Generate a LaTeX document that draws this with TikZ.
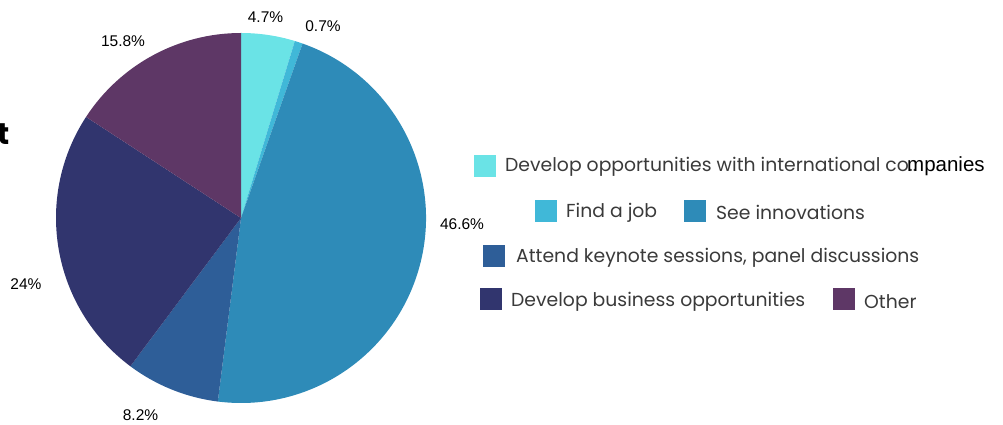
\documentclass[tikz,border=0pt]{standalone}
\usepackage{fontspec}
\setmainfont{Liberation Sans}
\newfontfamily\legendfont{Poppins}
\usetikzlibrary{positioning}

\definecolor{sliceA}{HTML}{6AE3E6}
\definecolor{sliceB}{HTML}{40B8D8}
\definecolor{sliceC}{HTML}{2E8BB8}
\definecolor{sliceD}{HTML}{2E5E98}
\definecolor{sliceE}{HTML}{31356E}
\definecolor{sliceF}{HTML}{5E3766}
\definecolor{legendtext}{HTML}{3A3A3A}

\tikzset{
  pct/.style={font=\fontsize{15.5}{16}\selectfont, text=black, inner sep=0pt},
  swatch/.style={minimum size=22pt, inner sep=0pt, fill=#1},
  legendlabel/.style={font=\legendfont\fontsize{18.8}{20}\selectfont, text=legendtext, inner sep=0pt, anchor=west}
}

\begin{document}
\begin{tikzpicture}[x=1pt,y=1pt]

\useasboundingbox (0,0) rectangle (1003,425);

% pie slices
\begin{scope}[shift={(241,207)}]
\fill[sliceA] (0,0) -- (90:185) arc(90:73.08:185) -- cycle;
\fill[sliceB] (0,0) -- (73.08:185) arc(73.08:70.56:185) -- cycle;
\fill[sliceC] (0,0) -- (70.56:185) arc(70.56:-97.2:185) -- cycle;
\fill[sliceD] (0,0) -- (-97.2:185) arc(-97.2:-126.72:185) -- cycle;
\fill[sliceE] (0,0) -- (-126.72:185) arc(-126.72:-213.12:185) -- cycle;
\fill[sliceF] (0,0) -- (146.88:185) arc(146.88:90:185) -- cycle;
\end{scope}

% percentages
\node[pct] (pA) at (265.5,407.5) {4.7\%};
\node[pct] (pB) at (323,398.5) {0.7\%};
\node[pct] (pC) at (462,201) {46.6\%};
\node[pct] (pD) at (140.5,10) {8.2\%};
\node[pct] (pE) at (26,141) {24\%};
\node[pct] (pF) at (123,384) {15.8\%};

% cut title
\node[font=\legendfont\bfseries\fontsize{30}{32}\selectfont, inner sep=0pt, anchor=west] (title) at (-3,291) {t};

% legend
\node[swatch=sliceA] (sqA) at (485,259) {};
\node[legendlabel] (lbA) at (505,258) {Develop opportunities with international co..};
\node[font=\fontsize{20.5}{22}\selectfont, inner sep=0pt, anchor=west] (lbAend) at (907,259) {mpanies};

\node[swatch=sliceB] (sqB) at (546,214) {};
\node[legendlabel] (lbB) at (566,212.5) {Find a job};
\node[swatch=sliceC] (sqC) at (694.5,214) {};
\node[legendlabel] (lbC) at (716,212.5) {See innovations};

\node[swatch=sliceD] (sqD) at (494,169) {};
\node[legendlabel] (lbD) at (516,167.5) {Attend keynote sessions, panel discussions};

\node[swatch=sliceE] (sqE) at (491,125.5) {};
\node[legendlabel] (lbE) at (511,123.5) {Develop business opportunities};
\node[swatch=sliceF] (sqF) at (843.5,125.5) {};
\node[legendlabel] (lbF) at (864,123.5) {Other};

\end{tikzpicture}
\end{document}
